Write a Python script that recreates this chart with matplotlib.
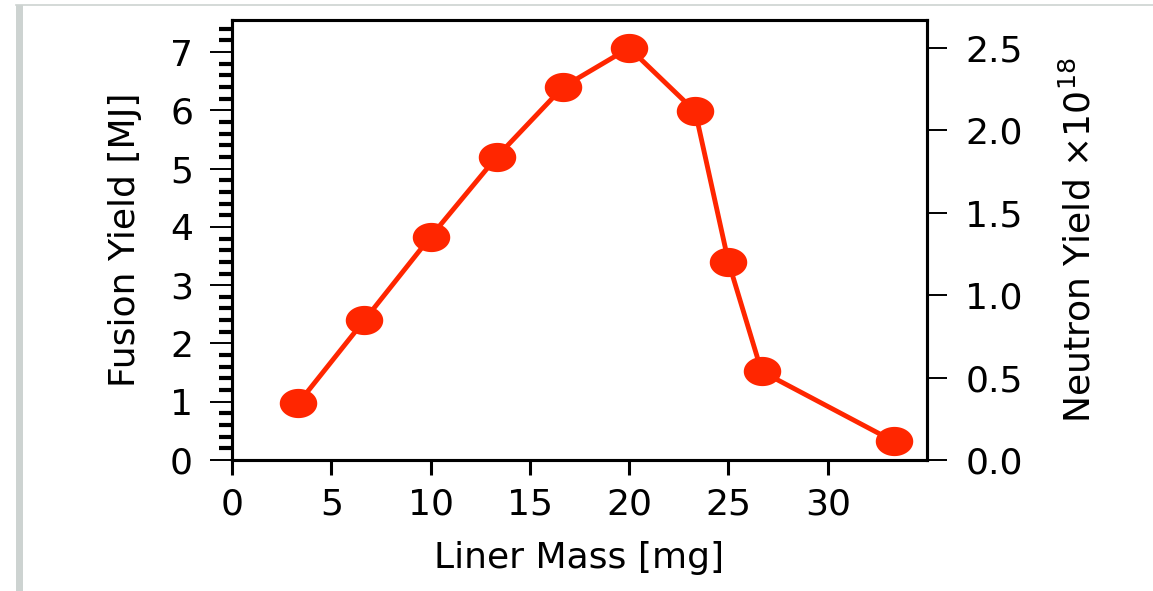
import numpy as np
import matplotlib.pyplot as plt
from matplotlib.patches import Rectangle
from matplotlib.path import Path
from matplotlib.ticker import MultipleLocator

# liner mass [mg] vs fusion yield [MJ]
mass = [3.33, 6.67, 10.0, 13.33, 16.67, 20.0, 23.33, 25.0, 26.67, 33.33]
yield_mj = [0.97, 2.40, 3.83, 5.20, 6.40, 7.07, 5.98, 3.40, 1.52, 0.32]
xticks = [0, 5, 10, 15, 20, 25, 30]
left_ticks = [0, 1, 2, 3, 4, 5, 6, 7]
right_ticks = [0.0, 0.5, 1.0, 1.5, 2.0, 2.5]
mj_to_n18 = 0.3533  # 1 MJ of DT fusion -> neutrons / 1e18

W, H = 1153, 591
fig = plt.figure(figsize=(W / 100, H / 100), dpi=100)
fig.patch.set_facecolor('white')

# screenshot frame remnants
fig.patches.append(Rectangle((16 / W, 0), 7 / W, 1 - 5 / H, transform=fig.transFigure,
                             color='#cdd3d1', lw=0, zorder=0))
fig.lines.append(plt.Line2D([16 / W, 1], [1 - 4.5 / H, 1 - 4.5 / H], transform=fig.transFigure,
                            color='#cdd3d1', lw=1.2))

# the source picture is stretched sideways, so the dots are ellipses
t = np.linspace(0, 2 * np.pi, 60)
ellipse = Path(np.column_stack([np.cos(t), 0.78 * np.sin(t)]), closed=True)

ax = fig.add_axes([232 / W, 1 - 460 / H, 695 / W, 440 / H])
red = '#ff2600'
ax.plot(mass, yield_mj, '-', color=red, lw=3.5, clip_on=False)
ax.plot(mass, yield_mj, ls='none', marker=ellipse, color=red, ms=27, mec='none', clip_on=False)

ymax = 7.55
ax.set_xlim(0, 35)
ax.set_ylim(0, ymax)
ax.set_xticks(xticks)
ax.set_yticks(left_ticks)
ax.yaxis.set_minor_locator(MultipleLocator(0.2))

fs = 26
for s in ax.spines.values():
    s.set_linewidth(2.2)
ax.tick_params(axis='x', which='major', length=11, width=2.2, pad=9, labelsize=fs)
ax.tick_params(axis='y', which='major', length=16, width=1.4, pad=12, labelsize=fs)
ax.tick_params(axis='y', which='minor', length=9.5, width=3.0)
ax.set_xlabel('Liner Mass [mg]', fontsize=fs, labelpad=14)
ax.set_ylabel('Fusion Yield [MJ]', fontsize=fs, labelpad=20)

ax2 = ax.twinx()
ax2.set_ylim(0, ymax * mj_to_n18)
ax2.set_yticks(right_ticks)
ax2.set_yticklabels(['%.1f' % v for v in right_ticks])
for s in ax2.spines.values():
    s.set_linewidth(2.2)
ax2.tick_params(axis='y', which='major', length=14.5, width=1.4, pad=13, labelsize=fs)
ax2.set_ylabel('Neutron Yield ×10$^{18}$', fontsize=fs, labelpad=28)

fig.savefig('out.png', dpi=100)
